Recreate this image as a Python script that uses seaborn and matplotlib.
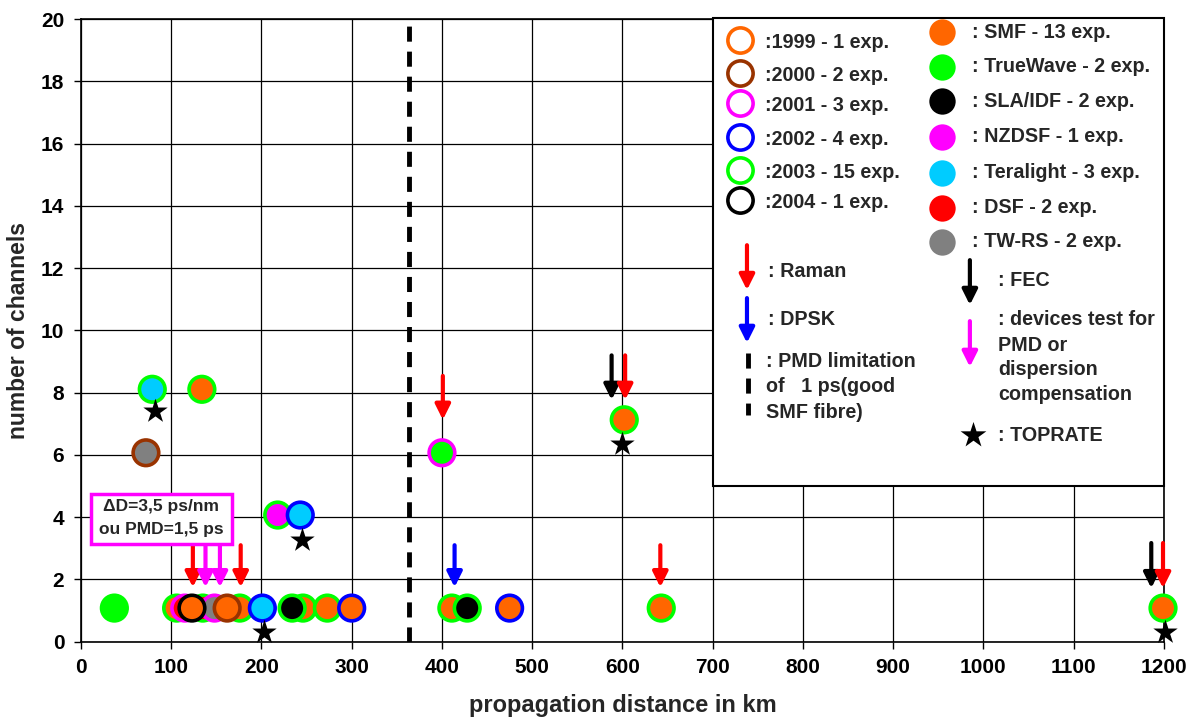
import matplotlib
matplotlib.use("Agg")
import matplotlib.pyplot as plt
from matplotlib.patches import Rectangle
import pandas as pd
import seaborn as sns

sns.set_style("ticks")
plt.rcParams['font.family'] = ['Liberation Sans', 'DejaVu Sans']
plt.rcParams['font.weight'] = 'bold'
plt.rcParams['axes.labelweight'] = 'bold'

# experiments: distance (km), channels, fibre (fill), year (edge)
dist = [79, 134, 72, 400, 602, 218, 243,
        37, 106, 115, 135, 148, 176, 162, 123, 246, 234, 201, 273, 300,
        411, 428, 475, 643, 1199]
chans = [8.11, 8.11, 6.07, 6.07, 7.13, 4.07, 4.07,
         1.08, 1.08, 1.08, 1.08, 1.08, 1.08, 1.08, 1.08, 1.08, 1.08, 1.08, 1.08, 1.08,
         1.08, 1.08, 1.08, 1.08, 1.08]
fibre = ['Teralight', 'SMF', 'TW-RS', 'TrueWave', 'SMF', 'NZDSF', 'Teralight',
         'TrueWave', 'SMF', 'DSF', 'DSF', 'TW-RS', 'SMF', 'SMF', 'SMF', 'SMF', 'SLA/IDF',
         'Teralight', 'SMF', 'SMF', 'SMF', 'SLA/IDF', 'SMF', 'SMF', 'SMF']
year = ['2003', '2003', '2000', '2001', '2003', '2003', '2002',
        '2003', '2003', '2001', '2003', '2001', '2003', '2000', '2004', '2003', '2003',
        '2002', '2003', '2002', '2003', '2003', '2002', '2003', '2003']

year_colors = {'1999': '#FF6600', '2000': '#993300', '2001': '#FF00FF',
               '2002': '#0000FF', '2003': '#00FF00', '2004': '#000000'}
year_labels = [':1999 - 1 exp.', ':2000 - 2 exp.', ':2001 - 3 exp.',
               ':2002 - 4 exp.', ':2003 - 15 exp.', ':2004 - 1 exp.']
fibre_colors = {'SMF': '#FF6600', 'TrueWave': '#00FF00', 'SLA/IDF': '#000000',
                'NZDSF': '#FF00FF', 'Teralight': '#00CCFF', 'DSF': '#FF0000',
                'TW-RS': '#808080'}
fibre_labels = [': SMF - 13 exp.', ': TrueWave - 2 exp.', ': SLA/IDF - 2 exp.',
                ': NZDSF - 1 exp.', ': Teralight - 3 exp.', ': DSF - 2 exp.',
                ': TW-RS - 2 exp.']

# TOPRATE stars
star_x = [82, 245, 203, 600, 1201]
star_y = [7.41, 3.27, 0.31, 6.35, 0.31]

# arrows: x, y start, y end, colour
arrow_x = [124, 138, 154, 177, 414, 642, 401, 588, 603, 1186, 1199]
arrow_y0 = [3.1, 3.1, 3.1, 3.1, 3.1, 3.1, 8.54, 9.2, 9.2, 3.17, 3.17]
arrow_y1 = [1.75, 1.75, 1.75, 1.75, 1.75, 1.75, 7.13, 7.77, 7.77, 1.72, 1.72]
arrow_c = ['#FF0000', '#FF00FF', '#FF00FF', '#FF0000', '#0000FF', '#FF0000',
           '#FF0000', '#000000', '#FF0000', '#000000', '#FF0000']

pmd_limit = 363.5

df = pd.DataFrame({'dist': dist, 'chans': chans, 'fibre': fibre, 'year': year})
df['edge'] = df['year'].map(year_colors)

fig = plt.figure(figsize=(11.94, 7.21), dpi=100)
ax = fig.add_axes([0.0678, 0.110, 0.907, 0.8633])

ax.set_xlim(0, 1200)
ax.set_ylim(0, 20)
ax.set_xticks(range(0, 1201, 100))
ax.set_yticks(range(0, 21, 2))
ax.grid(True, color='black', lw=0.9)
ax.set_axisbelow(True)
for s in ax.spines.values():
    s.set_color('black')
    s.set_linewidth(1.2)
ax.tick_params(direction='out', length=5, width=1, colors='black', labelsize=15, pad=7)

ax.axvline(pmd_limit, color='black', lw=3.5, ls=(0, (3.1, 2.05)), zorder=2)

sns.scatterplot(data=df, x='dist', y='chans', hue='fibre', palette=fibre_colors,
                edgecolor=list(df['edge']), linewidth=2.6, s=340, legend=False,
                zorder=3, clip_on=False, ax=ax)
sns.scatterplot(x=star_x, y=star_y, marker='*', color='black', s=340, linewidth=0,
                zorder=4, clip_on=False, ax=ax)

arrow_style = dict(arrowstyle='-|>,head_length=0.6,head_width=0.3', lw=3,
                   mutation_scale=15, shrinkA=0, shrinkB=0)
for x, y0, y1, c in zip(arrow_x, arrow_y0, arrow_y1, arrow_c):
    ax.annotate('', xy=(x, y1), xytext=(x, y0),
                arrowprops=dict(color=c, **arrow_style), zorder=5)

# dispersion box
ax.add_patch(Rectangle((11, 3.15), 156, 1.58, fc='white', ec='#FF00FF', lw=2.5, zorder=5))
ax.text(89, 4.33, 'ΔD=3,5 ps/nm', ha='center', va='center', fontsize=12.5, zorder=6)
ax.text(89, 3.6, 'ou PMD=1,5 ps', ha='center', va='center', fontsize=12.5, zorder=6)

# legend box drawn by hand
ax.add_patch(Rectangle((0.5836, 0.25), 0.4164, 0.752, transform=ax.transAxes,
                       fc='white', ec='black', lw=1.5, zorder=6, clip_on=False))
leg_fs = 14.2
year_y = [19.33, 18.27, 17.31, 16.22, 15.16, 14.19]
for yy, (k, lab) in zip(year_y, zip(year_colors, year_labels)):
    ax.scatter([730], [yy], s=330, facecolor='white', edgecolor=year_colors[k],
               linewidth=2.6, zorder=7)
    ax.text(758, yy - 0.08, lab, va='center', fontsize=leg_fs, zorder=7)
fibre_y = [19.59, 18.47, 17.37, 16.22, 15.06, 13.94, 12.85]
for yy, (k, lab) in zip(fibre_y, zip(fibre_colors, fibre_labels)):
    ax.scatter([954], [yy], s=360, color=fibre_colors[k], linewidth=0, zorder=7)
    ax.text(987, yy, lab, va='center', fontsize=leg_fs, zorder=7)

key_arrows = [(738, 12.74, 11.30, '#FF0000'), (738, 11.04, 9.60, '#0000FF'),
              (985, 12.26, 10.82, '#000000'), (985, 10.30, 8.83, '#FF00FF')]
for x, y0, y1, c in key_arrows:
    ax.annotate('', xy=(x, y1), xytext=(x, y0),
                arrowprops=dict(color=c, **arrow_style), zorder=7)
ax.plot([739, 739], [9.28, 7.29], color='black', lw=3.5, ls=(0, (3.1, 2.05)), zorder=7)
ax.scatter([988], [6.64], marker='*', s=380, color='black', linewidth=0, zorder=7)

key_text = [(761, 11.88, ': Raman'), (761, 10.34, ': DPSK'),
            (759, 9.0, ': PMD limitation'), (759, 8.2, 'of   1 ps(good'),
            (759, 7.37, 'SMF fibre)'),
            (1016, 11.59, ': FEC'), (1016, 10.34, ': devices test for'),
            (1016, 9.53, 'PMD or'), (1016, 8.73, 'dispersion'),
            (1016, 7.93, 'compensation'), (1016, 6.64, ': TOPRATE')]
for x, y, t in key_text:
    ax.text(x, y, t, va='center', fontsize=leg_fs, zorder=7)

ax.set_xlabel('propagation distance in km', fontsize=17, labelpad=12)
ax.set_ylabel('number of channels', fontsize=16.5, labelpad=8)

fig.savefig('out.png', dpi=100)
